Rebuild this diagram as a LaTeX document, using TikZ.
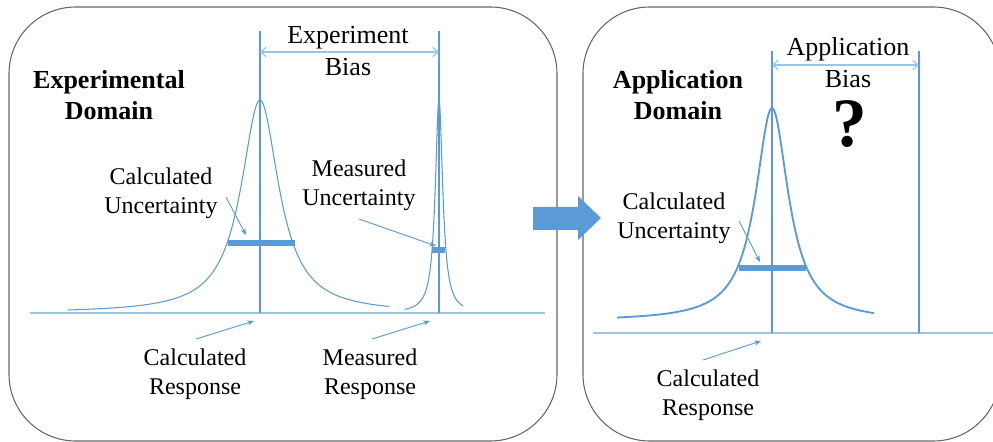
\documentclass[tikz,border=0pt]{standalone}
\usepackage{fontspec}
\setmainfont{Liberation Serif}
\usetikzlibrary{arrows.meta}
\definecolor{mblue}{HTML}{5B9BD5}
\definecolor{lblue}{HTML}{9DC3E6}
\definecolor{frame}{HTML}{666666}
\tikzset{
  panel/.style={draw=frame, line width=0.8pt, rounded corners=50pt},
  axis/.style={draw=lblue, line width=1pt},
  response/.style={draw=mblue, line width=2pt},
  biasarrow/.style={draw=lblue, line width=0.9pt, {Straight Barb[length=4pt,width=7pt]}-{Straight Barb[length=4pt,width=7pt]}},
  band/.style={draw=mblue, line width=5pt},
  pointer/.style={draw=mblue, line width=0.7pt, -{Stealth[length=5pt,width=4pt]}},
  lbl/.style={font=\fontsize{18}{22}\selectfont, align=center, inner sep=0pt},
  biaslbl/.style={font=\fontsize{19.5}{24}\selectfont, align=center, inner sep=0pt},
  title/.style={font=\fontsize{19.5}{23.5}\selectfont\bfseries, align=center, inner sep=0pt},
}
\begin{document}
\begin{tikzpicture}[x=0.75pt, y=-0.75pt]
\useasboundingbox (0,0) rectangle (993,442);
\clip (0,0) rectangle (993,442);

% two domain panels
\draw[panel] (9,7) rectangle (557,441);
\draw[panel] (583,7) rectangle (1000,441);

% ---------- experimental domain ----------
\coordinate (eAxL) at (30,313);
\coordinate (eAxR) at (545,313);
\draw[axis] (eAxL) -- (eAxR);

\coordinate (cTop) at (260,31);
\coordinate (cBot) at (260,313);
\coordinate (mTop) at (439,31);
\coordinate (mBot) at (439,313);

% calculated and measured response distributions
\draw[mblue, line width=0.8pt] plot[domain=-192:129, samples=300]
  ({\x+260},{313-213/(1+(\x/23)^2)});
\draw[mblue, line width=0.8pt] plot[domain=-34:24, samples=300]
  ({\x+439},{313-213/(1+(\x/4.5)^2)});

\draw[response] (cTop) -- (cBot);
\draw[response] (mTop) -- (mBot);

\coordinate (cBarL) at (228,243);
\coordinate (cBarR) at (295,243);
\draw[band] (cBarL) -- (cBarR);
\coordinate (mBarL) at (432,250);
\coordinate (mBarR) at (445,250);
\draw[band] (mBarL) -- (mBarR);

\coordinate (ebL) at (260,52);
\coordinate (ebR) at (439,52);
\draw[biasarrow] (ebL) -- (ebR);

\node[biaslbl] (ebias) at (348,51) {Experiment\\Bias};
\node[title] (etitle) at (109,95) {Experimental\\Domain};

\node[lbl] (ecu) at (161,193) {Calculated\\Uncertainty};
\coordinate (ecuS) at (226,197);
\coordinate (ecuE) at (246,235);
\draw[pointer] (ecuS) -- (ecuE);

\node[lbl] (emu) at (359,185) {Measured\\Uncertainty};
\coordinate (emuS) at (359,219);
\coordinate (emuE) at (436,246);
\draw[pointer] (emuS) -- (emuE);

\node[lbl] (ecr) at (195,374) {Calculated\\Response};
\coordinate (ecrS) at (196,339);
\coordinate (ecrE) at (254,321);
\draw[pointer] (ecrS) -- (ecrE);

\node[lbl] (emr) at (370,374) {Measured\\Response};
\coordinate (emrS) at (372,339);
\coordinate (emrE) at (430,321);
\draw[pointer] (emrS) -- (emrE);

% ---------- transition arrow ----------
\fill[mblue] (533,207) -- (578,207) -- (578,196) -- (601,218)
  -- (578,240) -- (578,230) -- (533,230) -- cycle;

% ---------- application domain ----------
\coordinate (aAxL) at (593,333);
\coordinate (aAxR) at (993,333);
\draw[axis] (aAxL) -- (aAxR);

\coordinate (aTop) at (772,51);
\coordinate (aBot) at (772,333);
\coordinate (bTop) at (919,51);
\coordinate (bBot) at (919,333);

\draw[mblue, line width=1.4pt] plot[domain=-155:102, samples=300]
  ({\x+772},{321-213/(1+(\x/20)^2)});

\draw[response] (aTop) -- (aBot);
\draw[response] (bTop) -- (bBot);

\coordinate (aBarL) at (739,268);
\coordinate (aBarR) at (806,268);
\draw[band] (aBarL) -- (aBarR);

\coordinate (abL) at (772,65);
\coordinate (abR) at (919,65);
\draw[biasarrow] (abL) -- (abR);

\node[biaslbl] (abias) at (848,63) {Application\\Bias};
\node[font=\fontsize{52}{52}\selectfont\bfseries, inner sep=0pt] (qmark) at (850,124) {?};
\node[title] (atitle) at (678,95) {Application\\Domain};

\node[lbl] (acu) at (674,218) {Calculated\\Uncertainty};
\coordinate (acuS) at (739,221);
\coordinate (acuE) at (760,262);
\draw[pointer] (acuS) -- (acuE);

\node[lbl] (acr) at (708,395) {Calculated\\Response};
\coordinate (acrS) at (703,360);
\coordinate (acrE) at (761,341);
\draw[pointer] (acrS) -- (acrE);
\end{tikzpicture}
\end{document}
